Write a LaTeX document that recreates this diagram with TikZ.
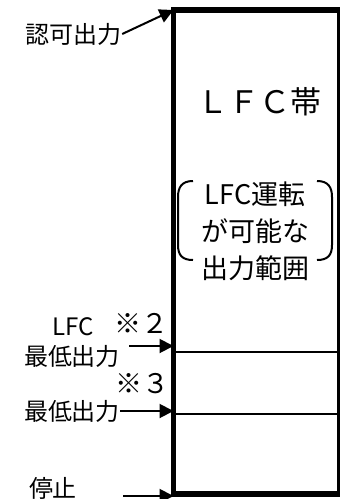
\documentclass[tikz,border=0pt]{standalone}
\usepackage{fontspec}
\setmainfont{Noto Sans CJK JP}
\usetikzlibrary{arrows.meta}

\begin{document}
\begin{tikzpicture}[x=1pt, y=-1pt,
	label text/.style={inner sep=0pt, font=\fontsize{24}{26}\selectfont},
	note text/.style={inner sep=0pt, font=\fontsize{27}{29}\selectfont},
	pointer/.style={line width=2pt, -{Triangle[length=14pt,width=14pt]}},
	thin rule/.style={line width=2pt}]
	
	\useasboundingbox (0,0) rectangle (340,499);
	\clip (0,0) rectangle (340,499);
	
	% Band
	\node [draw,
	line width=5.5pt,
	outer sep=0pt,
	anchor=north west,
	minimum width=166pt,
	minimum height=484pt] (band) at (173.5,10){};
	
	\coordinate (lfcmin) at (173.5,352);
	\coordinate (min) at (173.5,414);
	\draw[thin rule] (lfcmin) -- (lfcmin -| band.east);
	\draw[thin rule] (min) -- (min -| band.east);
	
	\node[font=\fontsize{31}{33}\selectfont] (bandname) at (259,102) {ＬＦＣ帯};
	
	% Range
	\node[align=center,
	font=\fontsize{27}{37}\selectfont] (range) at (255,231) {LFC運転\\が可能な\\出力範囲};
	
	\draw[thin rule] (193,181) .. controls (182,181) and (178,187) .. (178,197)
		-- (178,245) .. controls (178,255) and (182,260) .. (193,260);
	\draw[thin rule] (317,181) .. controls (328,181) and (332,187) .. (332,197)
		-- (332,245) .. controls (332,255) and (328,260) .. (317,260);
	
	% Labels
	\node[label text] (kyoka) at (74,34) {認可出力};
	\draw[pointer] (kyoka.east) -- (band.north west);
	
	\node[label text] (lfc) at (73,327) {LFC};
	\node[note text] (note2) at (141,323) {※２};
	\node[label text] (lfcminlabel) at (72,356) {最低出力};
	\coordinate (lfctail) at (129,346);
	\draw[pointer] (lfctail) -- (lfctail -| band.west);
	
	\node[note text] (note3) at (142,384) {※３};
	\node[label text] (minlabel) at (72,411) {最低出力};
	\draw[pointer] (minlabel.east) -- (minlabel.east -| band.west);
	
	\node[label text] (stop) at (53,488) {停止};
	\coordinate (stoptail) at (123,496);
	\draw[pointer] (stoptail) -- (stoptail -| band.west);
	
\end{tikzpicture}
\end{document}
